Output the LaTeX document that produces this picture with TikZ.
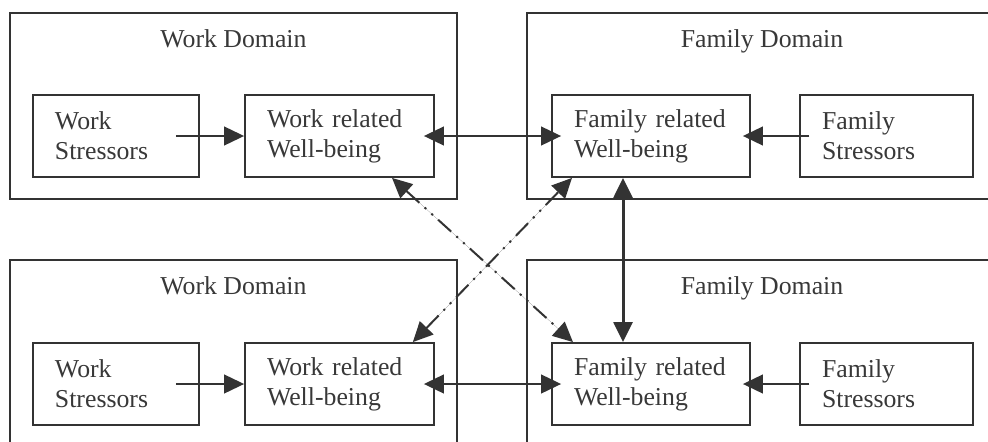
\documentclass[tikz,border=0pt]{standalone}
\usepackage{fontspec}
\setmainfont{Liberation Serif}
\usepackage{tikz}
\usetikzlibrary{arrows.meta,calc}
\definecolor{lineGray}{gray}{0.2}
\definecolor{textGray}{gray}{0.22}
\tikzstyle{tsText} = [
    text=textGray,
    font=\fontsize{22}{25.6}\selectfont
]
\tikzstyle{tsDomain} = [
    rectangle,
    draw=lineGray,
    line width=0.55mm,
    inner sep=0pt
]
\tikzstyle{tsInner} = [
    rectangle,
    tsText,
    draw=lineGray,
    line width=0.55mm,
    align=left,
    inner xsep=0.66cm,
    minimum height=2.46cm
]
\tikzstyle{tsArrow} = [
    draw=lineGray,
    fill=lineGray,
    line width=0.5mm,
    -{Triangle[length=17pt,width=16pt]}
]
\tikzstyle{tsBoth} = [
    tsArrow,
    {Triangle[length=17pt,width=16pt]}-{Triangle[length=17pt,width=16pt]}
]
\tikzstyle{tsDashDot} = [
    tsBoth,
    line width=0.6mm,
    dash pattern=on 15pt off 6pt on 1.8pt off 6pt on 1.8pt off 6pt
]

\begin{document}
\begin{tikzpicture}[x=0.03cm, y=-0.03cm]

        \useasboundingbox (0,0) rectangle (988,441);
        \clip (0,0) rectangle (988,441);

        % domain frames
        \node[tsDomain, minimum width=13.41cm, minimum height=5.58cm] (workTop) at (233.5,106) {};
        \node[tsDomain, minimum width=14.1cm, minimum height=5.58cm] (famTop) at (762,106) {};
        \node[tsDomain, minimum width=13.41cm, minimum height=5.58cm] (workBot) at (233.5,353) {};
        \node[tsDomain, minimum width=14.1cm, minimum height=5.58cm] (famBot) at (762,353) {};

        \node[tsText, anchor=base] (workTopTitle) at (233.5,47) {Work Domain};
        \node[tsText, anchor=base] (famTopTitle) at (762,47) {Family Domain};
        \node[tsText, anchor=base] (workBotTitle) at (233.5,294) {Work Domain};
        \node[tsText, anchor=base] (famBotTitle) at (762,294) {Family Domain};

        % inner boxes
        \node[tsInner, text width=3.66cm] (wsTop) at (116,136) {Work\\Stressors};
        \node[tsInner, text width=4.35cm] (wrTop) at (339.5,136) {Work related\\Well-being};
        \node[tsInner, text width=4.62cm] (frTop) at (651,136) {Family related\\Well-being};
        \node[tsInner, text width=3.87cm] (fsTop) at (886.5,136) {Family\\Stressors};

        \node[tsInner, text width=3.66cm] (wsBot) at (116,384) {Work\\Stressors};
        \node[tsInner, text width=4.35cm] (wrBot) at (339.5,384) {Work related\\Well-being};
        \node[tsInner, text width=4.62cm] (frBot) at (651,384) {Family related\\Well-being};
        \node[tsInner, text width=3.87cm] (fsBot) at (886.5,384) {Family\\Stressors};

        % connectors
        \draw[tsArrow] ([xshift=-0.72cm]wsTop.east) -- (wrTop.west);
        \draw[tsArrow] ([xshift=-0.72cm]wsBot.east) -- (wrBot.west);
        \draw[tsBoth] ([xshift=-0.33cm]wrTop.east) -- ([xshift=0.3cm]frTop.west);
        \draw[tsBoth] ([xshift=-0.33cm]wrBot.east) -- ([xshift=0.3cm]frBot.west);
        \draw[tsArrow] ([xshift=0.3cm]fsTop.west) -- ([xshift=-0.24cm]frTop.east);
        \draw[tsArrow] ([xshift=0.3cm]fsBot.west) -- ([xshift=-0.24cm]frBot.east);

        \draw[tsBoth, line width=0.9mm] ([xshift=-0.84cm]frTop.south) -- ([xshift=-0.84cm]frBot.north);

        \draw[tsDashDot] ([xshift=1.575cm]wrTop.south) -- ([xshift=-2.34cm]frBot.north);
        \draw[tsDashDot] ([xshift=2.2cm]wrBot.north) -- ([xshift=-2.37cm]frTop.south);

\end{tikzpicture}
\end{document}
